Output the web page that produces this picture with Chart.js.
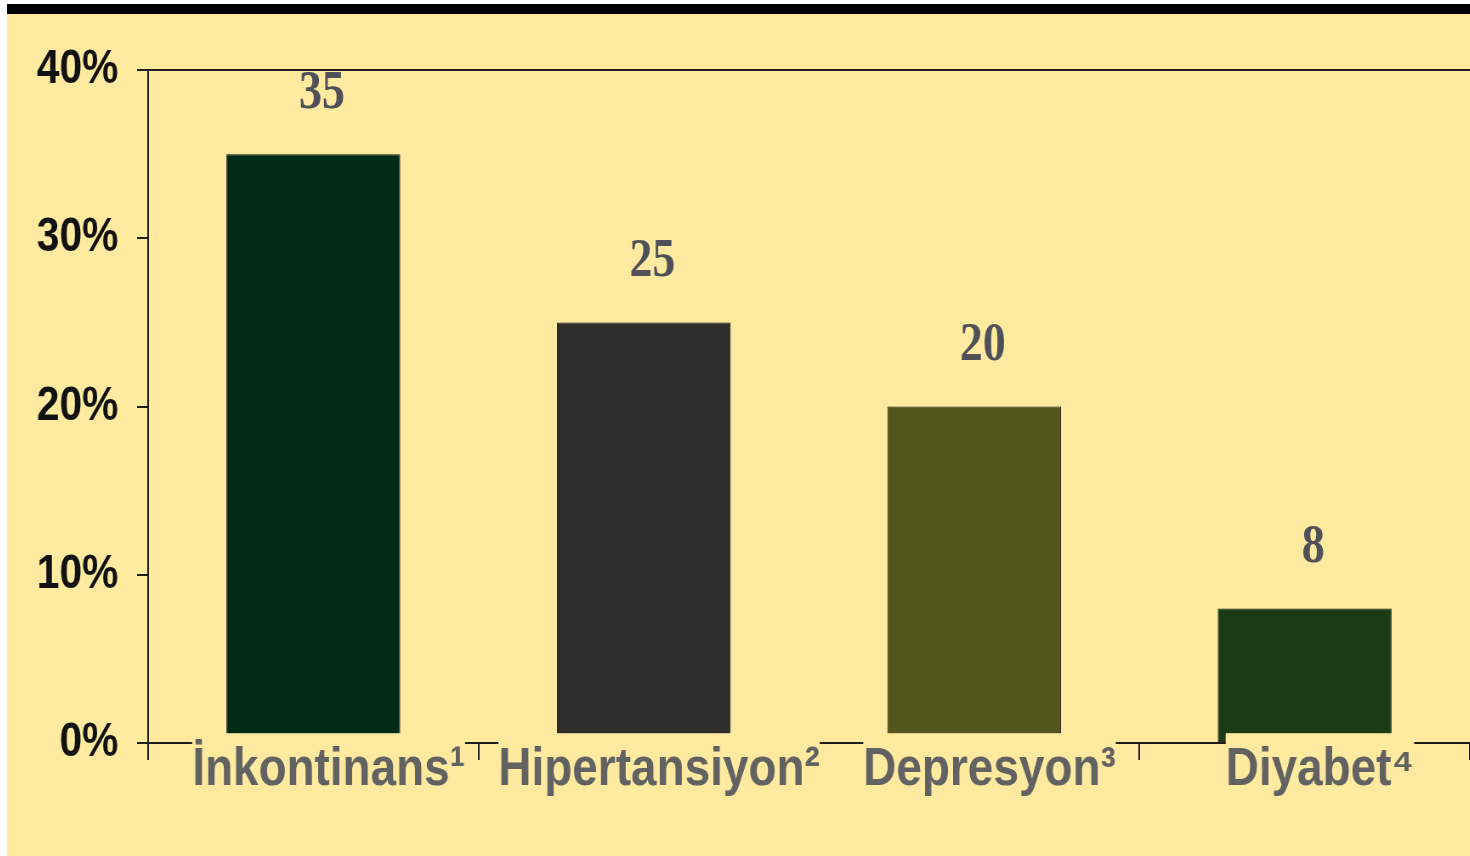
<!DOCTYPE html>
<html>
<head>
<meta charset="utf-8">
<script src="https://cdn.jsdelivr.net/npm/chart.js@4/dist/chart.umd.min.js"></script>
<style>
  html, body { margin: 0; padding: 0; background: #fff; overflow: hidden; }
  #topBar { position: absolute; left: 7px; top: 4px; width: 1463px; height: 10px; background: #000; }
  #panel { position: absolute; left: 7px; top: 14px; width: 1463px; height: 842px; background: #ffeaa0; overflow: hidden; }
  #chart { transform: scaleX(0.85); transform-origin: 0 0; }
</style>
</head>
<body>
<div id="topBar"></div>
<div id="panel"><canvas id="chart" width="1721" height="842"></canvas></div>
<script>
const categories = ["İnkontinans¹", "Hipertansiyon²", "Depresyon³", "Diyabet⁴"];
const values = [35, 25, 20, 8];
const barColors = ["#002b18", "#2d2d2d", "#52561a", "#1b3a16"];
const yMax = 40;
const yStep = 10;

const BG = "#ffeaa0";
const LINE = "#1e1e1e";

// draws the numbers above the bars
const valueLabels = {
    id: "valueLabels",
    afterDatasetsDraw(chart) {
        const ctx = chart.ctx;
        const meta = chart.getDatasetMeta(0);
        ctx.save();
        ctx.font = "bold 54px 'Liberation Serif', 'Times New Roman', serif";
        ctx.fillStyle = "#505058";
        ctx.textAlign = "center";
        ctx.textBaseline = "middle";
        meta.data.forEach((bar, i) => {
            ctx.fillText(String(values[i]), bar.x + 10, bar.y - 60);
        });
        ctx.restore();
    }
};

new Chart(document.getElementById("chart"), {
    type: "bar",
    data: {
        labels: categories,
        datasets: [{
            data: values,
            backgroundColor: barColors,
            borderColor: "#111",
            borderWidth: 1,
            categoryPercentage: 1,
            barPercentage: 0.526
        }]
    },
    options: {
        responsive: false,
        animation: false,
        layout: { padding: { top: 56, right: 0, left: 0, bottom: 0 } },
        plugins: { legend: { display: false }, tooltip: { enabled: false } },
        scales: {
            x: {
                afterFit: (s) => { s.height = 113; },
                border: { color: LINE, width: 2 },
                grid: { drawOnChartArea: false, offset: true, color: LINE, lineWidth: 2, tickLength: 17 },
                ticks: {
                    z: 1,
                    mirror: true, // mirrored labels are not clipped to the axis box
                    padding: -60,
                    labelOffset: 18,
                    color: "#626262",
                    font: { family: "'Liberation Sans', Arial, sans-serif", size: 54, weight: "bold" },
                    showLabelBackdrop: true,
                    backdropColor: BG,
                    backdropPadding: { top: 5, bottom: 0, left: 0, right: 0 }
                }
            },
            y: {
                min: 0,
                max: yMax,
                afterFit: (s) => { s.width = 166; },
                border: { color: LINE, width: 2 },
                grid: {
                    color: (c) => c.tick && c.tick.value === yMax ? LINE : "rgba(0,0,0,0)",
                    tickColor: LINE,
                    lineWidth: 2,
                    tickLength: 13
                },
                ticks: {
                    stepSize: yStep,
                    padding: 22,
                    color: "#111",
                    font: { family: "'Liberation Sans Narrow', 'Liberation Sans', Arial, sans-serif", size: 48, weight: "bold" },
                    callback: (v) => v + "%"
                }
            }
        }
    },
    plugins: [valueLabels]
});
</script>
</body>
</html>
